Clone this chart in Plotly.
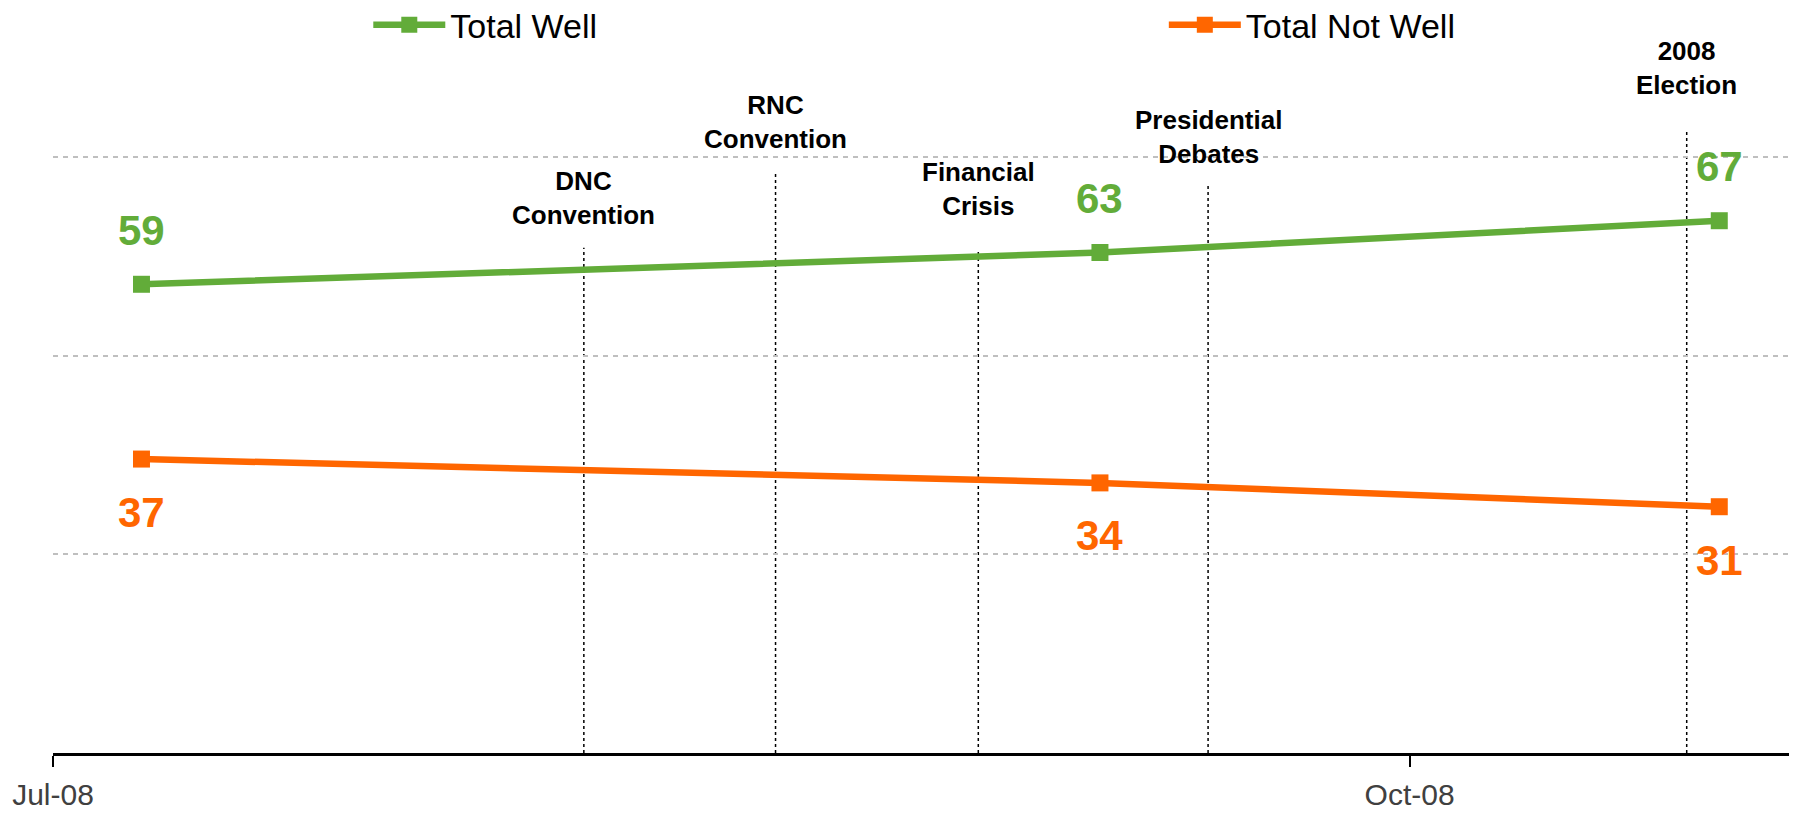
import plotly.graph_objects as go

# ---- data ----
survey_dates = ["2008-07-07", "2008-09-10", "2008-10-22"]
total_well = [59, 63, 67]
total_not_well = [37, 34, 31]

event_names = ["DNC<br>Convention", "RNC<br>Convention", "Financial<br>Crisis",
               "Presidential<br>Debates", "2008<br>Election"]
event_dates = ["2008-08-06", "2008-08-19", "2008-09-01 18:00",
               "2008-09-17 08:00", "2008-10-19 19:00"]

tick_vals = ["2008-07-01", "2008-10-01"]
tick_text = ["Jul-08", "Oct-08"]

# ---- style ----
FONT = "Liberation Sans, Arial, sans-serif"
GREEN = "#62AC39"
ORANGE = "#FF6600"
event_line_tops = [63.6, 73.2, 63.4, 71.6, 78.5]
event_label_y = [69.9, 79.4, 71.0, 77.5, 86.2]
well_shift = [54, 54, 54]
not_well_shift = [-53, -53, -54]

fig = go.Figure()
fig.add_trace(go.Scatter(
    x=survey_dates, y=total_well, name="Total Well", mode="lines+markers",
    line=dict(color=GREEN, width=6.5), marker=dict(symbol="square", size=17, color=GREEN),
    legend="legend", showlegend=True, cliponaxis=False))
fig.add_trace(go.Scatter(
    x=survey_dates, y=total_not_well, name="Total Not Well", mode="lines+markers",
    line=dict(color=ORANGE, width=6.5), marker=dict(symbol="square", size=17, color=ORANGE),
    legend="legend2", showlegend=True, cliponaxis=False))

shapes = []
annotations = []
for name, d, top, ly in zip(event_names, event_dates, event_line_tops, event_label_y):
    shapes.append(dict(type="line", xref="x", yref="y", x0=d, x1=d, y0=0, y1=top,
                       line=dict(color="black", width=1.5, dash="dot"), layer="below"))
    annotations.append(dict(xref="x", yref="y", x=d, y=ly, text=name, showarrow=False,
                            xanchor="center", yanchor="middle",
                            font=dict(family=FONT, size=26, color="black", weight="bold")))

for d, v, s in zip(survey_dates, total_well, well_shift):
    annotations.append(dict(xref="x", yref="y", x=d, y=v, yshift=s, text=str(v), showarrow=False,
                            xanchor="center", yanchor="middle",
                            font=dict(family=FONT, size=42, color=GREEN, weight="bold")))
for d, v, s in zip(survey_dates, total_not_well, not_well_shift):
    annotations.append(dict(xref="x", yref="y", x=d, y=v, yshift=s, text=str(v), showarrow=False,
                            xanchor="center", yanchor="middle",
                            font=dict(family=FONT, size=42, color=ORANGE, weight="bold")))

# The page has an 8px body margin, so the figure is 8px smaller than the window.
fig.update_layout(
    width=1789, height=805,
    margin=dict(l=45, r=4, t=30, b=60, autoexpand=False),
    paper_bgcolor="white", plot_bgcolor="white",
    showlegend=True,
    font=dict(family=FONT, color="black"),
    shapes=shapes, annotations=annotations,
    legend=dict(orientation="h", x=0.1812, y=1.018, xanchor="left", yanchor="middle",
                font=dict(family=FONT, size=34, color="black"), itemwidth=72,
                bgcolor="rgba(0,0,0,0)"),
    legend2=dict(orientation="h", x=0.6384, y=1.018, xanchor="left", yanchor="middle",
                 font=dict(family=FONT, size=34, color="black"), itemwidth=72,
                 bgcolor="rgba(0,0,0,0)"),
)
fig.update_xaxes(
    type="date", range=["2008-07-01", "2008-10-27"],
    tickvals=tick_vals, ticktext=tick_text,
    showgrid=False, zeroline=False,
    showline=True, linecolor="black", linewidth=3,
    ticks="outside", ticklen=11, tickwidth=1.5, tickcolor="black",
    ticklabelstandoff=2,
    tickfont=dict(family=FONT, size=30, color="#404040"),
)
fig.update_yaxes(
    range=[0, 90], dtick=25, tick0=0, showticklabels=False, ticks="",
    showgrid=True, gridcolor="#BFBFBF", gridwidth=2, griddash="5px,5px",
    zeroline=False, showline=False,
)

fig.write_html("out.html")
